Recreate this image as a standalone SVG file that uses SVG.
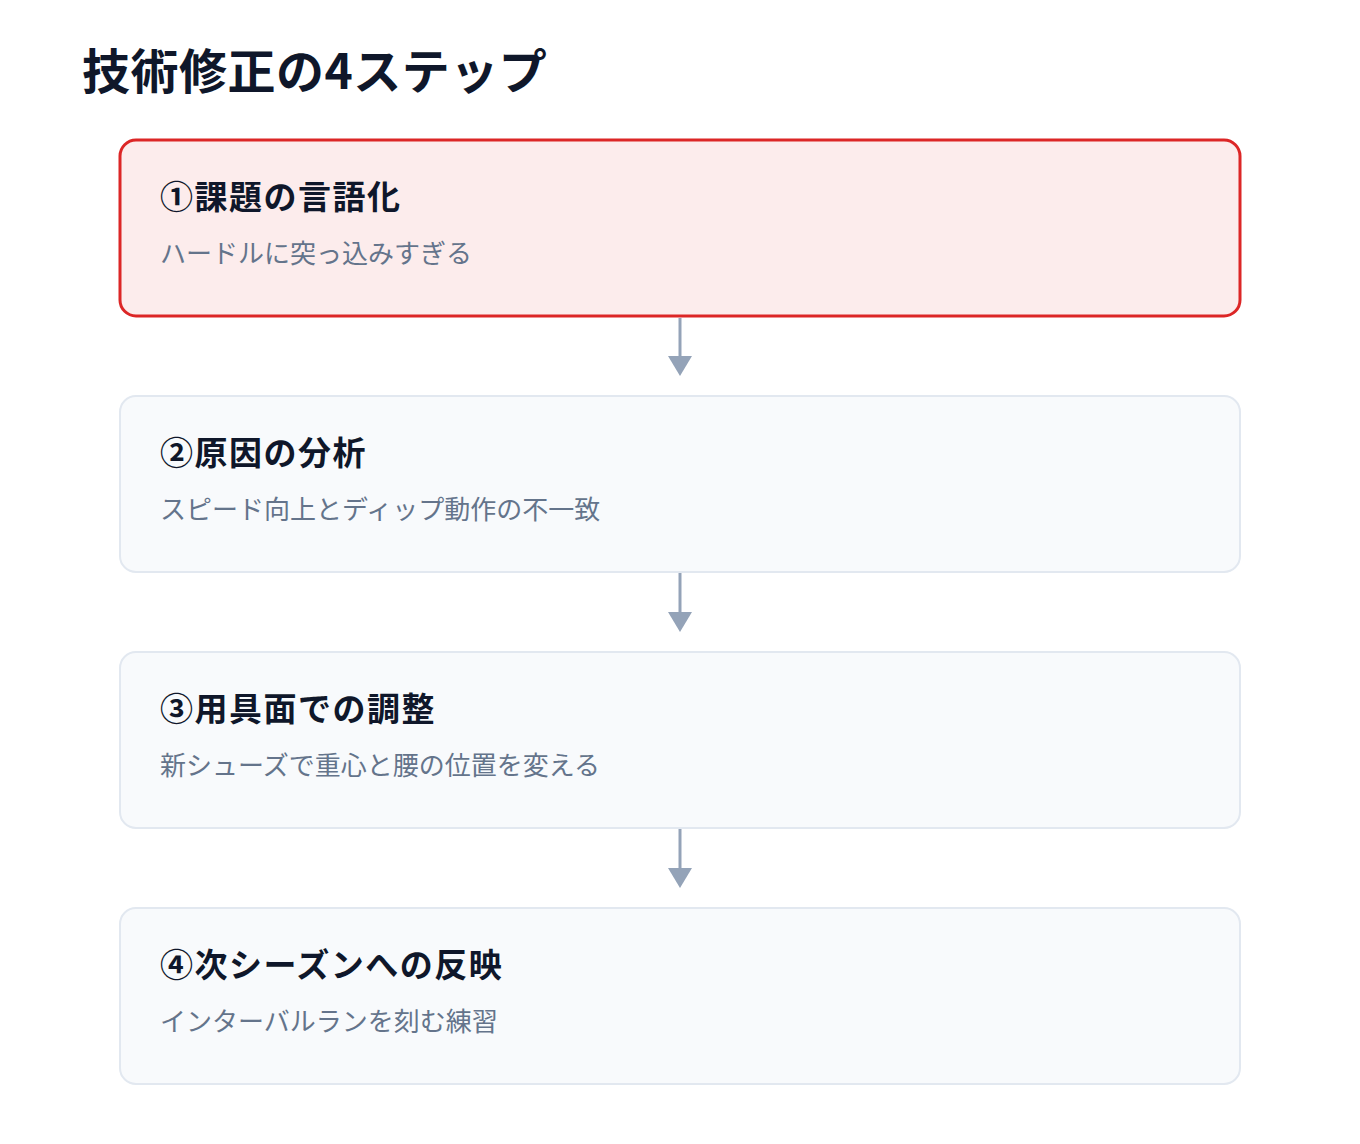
<svg xmlns="http://www.w3.org/2000/svg" width="1360" height="1144" viewBox="0 0 1360 1144">
<style>
.title{font-family:"Noto Sans CJK JP","Liberation Sans",sans-serif;font-weight:700;font-size:48px;fill:#0f172a;letter-spacing:0.5px}
.head{font-family:"Noto Sans CJK JP","Liberation Sans",sans-serif;font-weight:700;font-size:33px;fill:#0f172a;letter-spacing:1.5px}
.sub{font-family:"Noto Sans CJK JP","Liberation Sans",sans-serif;font-weight:400;font-size:26px;fill:#64748b;letter-spacing:0px}
.box{fill:#f8fafc;stroke:#e2e8f0;stroke-width:2}
.hl{fill:#fcecec;stroke:#dc2626;stroke-width:3}
.conn line{stroke:#94a3b8;stroke-width:3}
.conn polygon{fill:#94a3b8}
</style>
<rect width="1360" height="1144" fill="#ffffff"/>
<text class="title" x="82" y="89">技術修正の4ステップ</text>
<g id="connectors" class="conn">
<line x1="680" y1="318" x2="680" y2="360"/><polygon points="668,356 692,356 680,376"/>
<line x1="680" y1="573" x2="680" y2="616"/><polygon points="668,612 692,612 680,632"/>
<line x1="680" y1="829" x2="680" y2="872"/><polygon points="668,868 692,868 680,888"/>
</g>
<g id="step1">
<rect class="hl" x="120" y="140" width="1120" height="176" rx="16"/>
<text class="head" x="160" y="209">①課題の言語化</text>
<text class="sub" x="160" y="263">ハードルに突っ込みすぎる</text>
</g>
<g id="step2">
<rect class="box" x="120" y="396" width="1120" height="176" rx="16"/>
<text class="head" x="160" y="465">②原因の分析</text>
<text class="sub" x="160" y="519">スピード向上とディップ動作の不一致</text>
</g>
<g id="step3">
<rect class="box" x="120" y="652" width="1120" height="176" rx="16"/>
<text class="head" x="160" y="721">③用具面での調整</text>
<text class="sub" x="160" y="775">新シューズで重心と腰の位置を変える</text>
</g>
<g id="step4">
<rect class="box" x="120" y="908" width="1120" height="176" rx="16"/>
<text class="head" x="160" y="977">④次シーズンへの反映</text>
<text class="sub" x="160" y="1031">インターバルランを刻む練習</text>
</g>
</svg>
